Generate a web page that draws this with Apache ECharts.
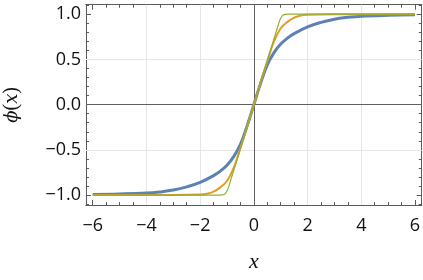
<!DOCTYPE html>
<html><head><meta charset="utf-8">
<script src="https://cdn.jsdelivr.net/npm/echarts@6/dist/echarts.min.js"></script>
<style>html,body{margin:0;padding:0;background:#fff}#c{width:423px;height:280px}</style>
</head><body><div id="c"></div>
<script>
// ---- data ----
const xTicks = [-6, -4, -2, 0, 2, 4, 6];
const xMinorTicks = [-6,-5.5,-5,-4.5,-4,-3.5,-3,-2.5,-2,-1.5,-1,-0.5,0,0.5,1,1.5,2,2.5,3,3.5,4,4.5,5,5.5,6];
const yTicks = [-1.0, -0.5, 0.0, 0.5, 1.0];
const yMinorTicks = [-1.1,-1,-0.9,-0.8,-0.7,-0.6,-0.5,-0.4,-0.3,-0.2,-0.1,0,0.1,0.2,0.3,0.4,0.5,0.6,0.7,0.8,0.9,1,1.1];
const xGrid = [-4, -2, 2, 4];
const yGrid = [-0.5, 0.5];

const blueX = [-6,-5,-4,-3.5,-3,-2.5,-2,-1.5,-1.25,-1,-0.75,-0.5,-0.25,0,0.25,0.5,0.75,1,1.25,1.5,2,2.5,3,3.5,4,5,6];
const blueY = [-0.993,-0.988,-0.978,-0.965,-0.945,-0.91,-0.86,-0.785,-0.735,-0.67,-0.575,-0.44,-0.235,0,0.235,0.44,0.575,0.67,0.735,0.785,0.86,0.91,0.945,0.965,0.978,0.988,0.993];

const orangeX = [-6,-3,-2,-1.75,-1.5,-1.25,-1,-0.75,-0.5,-0.25,0,0.25,0.5,0.75,1,1.25,1.5,1.75,2,3,6];
const orangeY = [-1,-0.999,-0.994,-0.986,-0.962,-0.915,-0.845,-0.70,-0.48,-0.245,0,0.245,0.48,0.70,0.845,0.915,0.962,0.986,0.994,0.999,1];

const greenX = [-6,-1.25,-1.12,-1.05,-0.95,0,0.95,1.05,1.12,1.25,6];
const greenY = [-1,-1,-0.996,-0.98,-0.92,0,0.92,0.98,0.996,1,1];

const zip = (xs, ys) => xs.map((x, i) => [x, ys[i]]);
const minus = v => String(v).replace('-', '\u2212');

const frameColor = '#5a5a5a';
const labelFont = { color: '#111', fontFamily: 'Open Sans', fontSize: 18 };

function xAx(pos, major) {
  return {
    type: 'value', position: pos, min: -6.25, max: 6.25,
    axisLine: { show: true, onZero: false, lineStyle: { color: frameColor, width: 1 } },
    splitLine: { show: false },
    axisTick: { show: true, inside: true, length: major ? 5 : 3, customValues: major ? xTicks : xMinorTicks,
      lineStyle: { color: frameColor, width: 1 } },
    axisLabel: (major && pos === 'bottom') ? Object.assign({ show: true, margin: 12, customValues: xTicks,
      formatter: v => minus(v) }, labelFont) : { show: false }
  };
}
function yAx(pos, major) {
  return {
    type: 'value', position: pos, min: -1.11, max: 1.105,
    axisLine: { show: true, onZero: false, lineStyle: { color: frameColor, width: 1 } },
    splitLine: { show: false },
    axisTick: { show: true, inside: true, length: major ? 5 : 3, customValues: major ? yTicks : yMinorTicks,
      lineStyle: { color: frameColor, width: 1 } },
    axisLabel: (major && pos === 'left') ? Object.assign({ show: true, margin: 5, customValues: yTicks,
      formatter: v => minus(v.toFixed(1)) }, labelFont) : { show: false }
  };
}

const xAxes = [xAx('bottom', true), xAx('bottom', false), xAx('top', true), xAx('top', false)];
xAxes[0].name = '{i|x}';
xAxes[0].nameLocation = 'middle';
xAxes[0].nameGap = 46;
xAxes[0].nameTextStyle = { rich: { i: { fontFamily: 'Liberation Serif', fontStyle: 'italic', fontSize: 22, color: '#111' } } };

const yAxes = [yAx('left', true), yAx('left', false), yAx('right', true), yAx('right', false)];
yAxes[0].name = '{i|\u03D5}{u|(}{i|x}{u|)}';
yAxes[0].nameLocation = 'middle';
yAxes[0].nameGap = 64;
yAxes[0].nameRotate = 90;
yAxes[0].nameTextStyle = { rich: {
  i: { fontFamily: 'DejaVu Serif', fontStyle: 'italic', fontSize: 18, color: '#111' },
  u: { fontFamily: 'Liberation Serif', fontSize: 20, color: '#111' } } };

const gridLines = xGrid.map(v => ({ xAxis: v, lineStyle: { color: '#e6e6e6', width: 1, type: 'solid' } }))
  .concat(yGrid.map(v => ({ yAxis: v, lineStyle: { color: '#e6e6e6', width: 1, type: 'solid' } })))
  .concat([{ xAxis: 0, lineStyle: { color: '#606060', width: 1, type: 'solid' } },
           { yAxis: 0, lineStyle: { color: '#606060', width: 1, type: 'solid' } }]);

const chart = echarts.init(document.getElementById('c'), null, { renderer: 'canvas' });
chart.setOption({
  animation: false,
  grid: { left: 86, right: 1.3, top: 4.7, bottom: 75, containLabel: false, outerBoundsMode: 'none' },
  xAxis: xAxes,
  yAxis: yAxes,
  series: [
    { type: 'line', data: [], z: 1, silent: true,
      markLine: { z: 1, silent: true, symbol: ['none', 'none'], label: { show: false }, animation: false, data: gridLines } },
    { type: 'line', data: zip(blueX, blueY), smooth: 0.4, showSymbol: false, z: 3,
      lineStyle: { color: '#5E81B5', width: 3 } },
    { type: 'line', data: zip(orangeX, orangeY), smooth: 0.4, showSymbol: false, z: 4,
      lineStyle: { color: '#E19C24', width: 2 } },
    { type: 'line', data: zip(greenX, greenY), smooth: 0.2, showSymbol: false, z: 5,
      lineStyle: { color: '#8FB032', width: 1.2 } }
  ]
});
</script></body></html>
